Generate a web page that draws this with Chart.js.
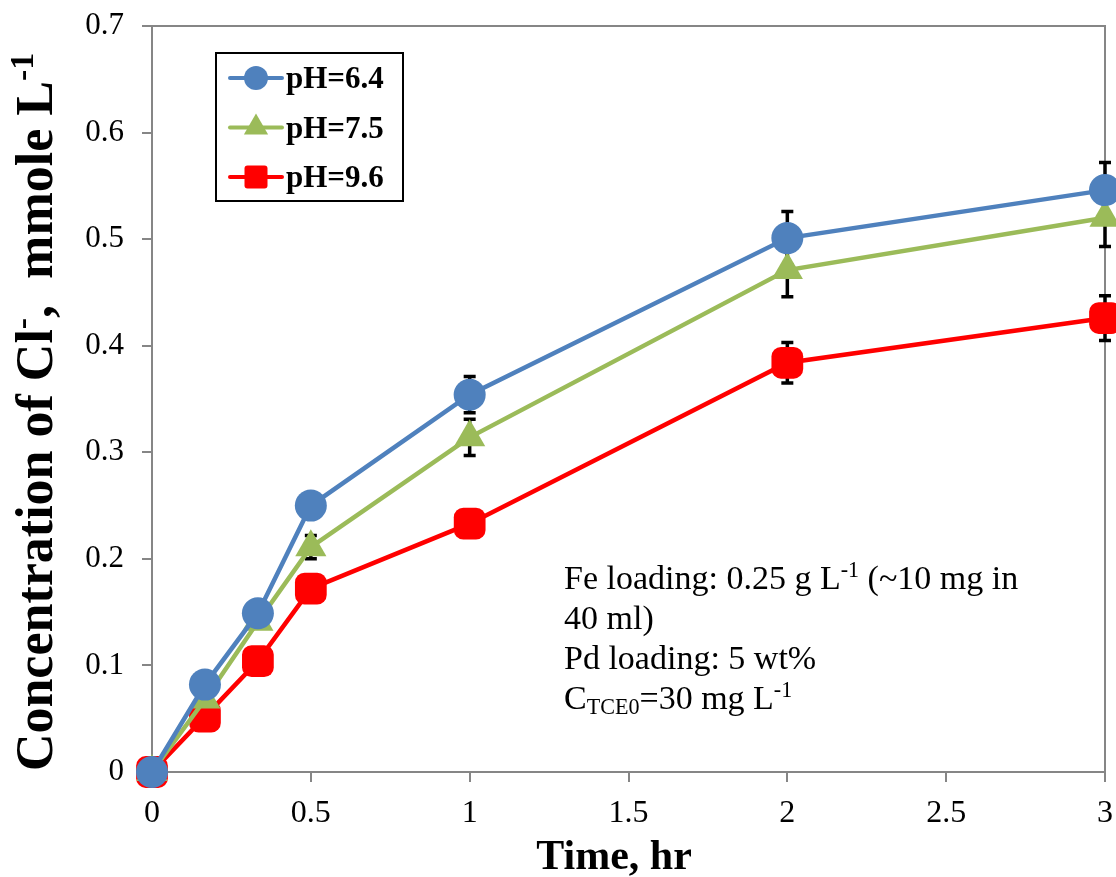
<!DOCTYPE html>
<html>
<head>
<meta charset="utf-8">
<script src="https://cdn.jsdelivr.net/npm/chart.js@4.4.0/dist/chart.umd.min.js"></script>
<style>
  html, body { margin: 0; padding: 0; background: #fff; }
  #wrap { width: 1116px; height: 877px; }
</style>
</head>
<body>
<div id="wrap"><canvas id="chart" width="1116" height="877"></canvas></div>
<script>
// time points (hr)
const times = [0, 1 / 6, 1 / 3, 0.5, 1, 2, 3];

// chloride concentration, mmole/L
const ph64 = [0, 0.082, 0.149, 0.250, 0.354, 0.501, 0.546];
const ph75 = [0, 0.068, 0.141, 0.211, 0.314, 0.471, 0.520];
const ph96 = [0, 0.052, 0.104, 0.172, 0.233, 0.384, 0.426];

// error bar half-widths
const ph64Err = [0, 0, 0, 0, 0.017, 0.025, 0.026];
const ph75Err = [0, 0, 0, 0.011, 0.017, 0.025, 0.027];
const ph96Err = [0, 0, 0, 0, 0.008, 0.019, 0.021];

const seriesNames = ['pH=6.4', 'pH=7.5', 'pH=9.6'];
const xTicks = [0, 0.5, 1, 1.5, 2, 2.5, 3];
const yTicks = [0, 0.1, 0.2, 0.3, 0.4, 0.5, 0.6, 0.7];

const BLUE = '#4F81BD';
const GREEN = '#9BBB59';
const RED = '#FF0000';
const AXIS = '#868686';
const SERIF = '"Liberation Serif", "Times New Roman", serif';

function toPoints(ys) {
    return ys.map((y, i) => ({ x: times[i], y: y }));
}

// draws text made of runs, some raised or lowered
function drawRich(ctx, runs, x, y, size, weight, align) {
    const parts = runs.map(r => {
        const s = r.sup || r.sub ? size * 0.65 : size;
        ctx.font = weight + ' ' + s + 'px ' + SERIF;
        return { text: r.t, size: s, w: ctx.measureText(r.t).width, dy: r.sup ? -size * 0.36 : (r.sub ? size * 0.16 : 0) };
    });
    const total = parts.reduce((a, p) => a + p.w, 0);
    let cx = align === 'center' ? x - total / 2 : x;
    ctx.textAlign = 'left';
    parts.forEach(p => {
        ctx.font = weight + ' ' + p.size + 'px ' + SERIF;
        ctx.fillText(p.text, cx, y + p.dy);
        cx += p.w;
    });
}

function marker(ctx, style, x, y, r, color) {
    ctx.fillStyle = color;
    ctx.beginPath();
    if (style === 'circle') {
        ctx.arc(x, y, r, 0, Math.PI * 2);
    } else if (style === 'triangle') {
        ctx.moveTo(x, y - r);
        ctx.lineTo(x + r * 0.866, y + r * 0.5);
        ctx.lineTo(x - r * 0.866, y + r * 0.5);
        ctx.closePath();
    } else {
        ctx.roundRect(x - r, y - r, 2 * r, 2 * r, 3);
    }
    ctx.fill();
}

const errorBars = {
    id: 'errorBars',
    beforeDatasetsDraw(chart) {
        const ctx = chart.ctx;
        const xs = chart.scales.x, ys = chart.scales.y;
        const area = chart.chartArea;
        ctx.save();
        // plot frame
        ctx.strokeStyle = AXIS;
        ctx.lineWidth = 2;
        ctx.strokeRect(area.left, area.top, area.right - area.left, area.bottom - area.top);
        ctx.strokeStyle = '#000';
        ctx.lineWidth = 3.5;
        const sets = [[ph64, ph64Err], [ph75, ph75Err], [ph96, ph96Err]];
        sets.forEach(([vals, errs]) => {
            vals.forEach((v, i) => {
                if (!errs[i]) return;
                const px = xs.getPixelForValue(times[i]);
                const top = ys.getPixelForValue(v + errs[i]);
                const bot = ys.getPixelForValue(v - errs[i]);
                ctx.beginPath();
                ctx.moveTo(px, top); ctx.lineTo(px, bot);
                ctx.moveTo(px - 6, top); ctx.lineTo(px + 6, top);
                ctx.moveTo(px - 6, bot); ctx.lineTo(px + 6, bot);
                ctx.stroke();
            });
        });
        ctx.restore();
    }
};

const decorations = {
    id: 'decorations',
    afterDraw(chart) {
        const ctx = chart.ctx;
        ctx.save();
        ctx.fillStyle = '#000';
        ctx.textBaseline = 'alphabetic';

        // x title
        drawRich(ctx, [{ t: 'Time, hr' }], 614, 869, 42, 'bold', 'center');

        // y title, rotated
        ctx.save();
        ctx.translate(52, 412);
        ctx.rotate(-Math.PI / 2);
        drawRich(ctx, [
            { t: 'Concentration of Cl' }, { t: '-', sup: true },
            { t: ',  mmole L' }, { t: '-1', sup: true }
        ], 0, 0, 52, 'bold', 'center');
        ctx.restore();

        // annotation
        const notes = [
            [{ t: 'Fe loading: 0.25 g L' }, { t: '-1', sup: true }, { t: ' (~10 mg in' }],
            [{ t: '40 ml)' }],
            [{ t: 'Pd loading: 5 wt%' }],
            [{ t: 'C' }, { t: 'TCE0', sub: true }, { t: '=30 mg L' }, { t: '-1', sup: true }]
        ];
        notes.forEach((runs, i) => drawRich(ctx, runs, 564, 589 + i * 40, 34, 'normal', 'left'));

        // legend
        ctx.strokeStyle = '#000';
        ctx.lineWidth = 2;
        ctx.strokeRect(216, 53, 187, 148);
        const colors = [BLUE, GREEN, RED];
        const styles = ['circle', 'triangle', 'rect'];
        const sizes = [12, 14, 11.5];
        seriesNames.forEach((name, i) => {
            const ly = 78 + i * 49.5;
            ctx.strokeStyle = colors[i];
            ctx.lineWidth = 4;
            ctx.lineCap = 'round';
            ctx.beginPath();
            ctx.moveTo(230, ly); ctx.lineTo(282, ly);
            ctx.stroke();
            marker(ctx, styles[i], 256, ly, sizes[i], colors[i]);
            ctx.fillStyle = '#000';
            ctx.font = 'bold 31px ' + SERIF;
            ctx.textBaseline = 'middle';
            ctx.textAlign = 'left';
            ctx.fillText(name, 286, ly + 2);
        });
        ctx.restore();
    }
};

new Chart(document.getElementById('chart'), {
    type: 'line',
    data: {
        datasets: [
            {
                label: seriesNames[0],
                data: toPoints(ph64),
                borderColor: BLUE,
                backgroundColor: BLUE,
                borderWidth: 4.5,
                pointStyle: 'circle',
                pointRadius: 16,
                pointBorderWidth: 0,
                clip: false
            },
            {
                label: seriesNames[1],
                data: toPoints(ph75),
                borderColor: GREEN,
                backgroundColor: GREEN,
                borderWidth: 4.5,
                pointStyle: 'triangle',
                pointRadius: 18,
                pointBorderWidth: 0,
                clip: false
            },
            {
                label: seriesNames[2],
                data: toPoints(ph96),
                borderColor: RED,
                backgroundColor: RED,
                borderWidth: 4.5,
                pointStyle: 'rectRounded',
                pointRadius: 18.5,
                pointBorderWidth: 0,
                clip: false
            }
        ]
    },
    options: {
        responsive: false,
        animation: false,
        layout: { autoPadding: false, padding: { top: 26, right: 11, left: 0, bottom: 0 } },
        plugins: {
            legend: { display: false },
            tooltip: { enabled: false }
        },
        elements: { line: { tension: 0 } },
        scales: {
            x: {
                type: 'linear',
                min: 0,
                max: 3,
                afterFit: scale => {
                    scale.height = 105;
                    scale.paddingLeft = 0;
                    scale.paddingRight = 0;
                },
                afterBuildTicks: scale => { scale.ticks = xTicks.map(v => ({ value: v })); },
                ticks: {
                    color: '#000',
                    padding: 12,
                    font: { family: SERIF, size: 32 },
                    callback: v => String(v)
                },
                grid: { drawOnChartArea: false, tickLength: 10, color: AXIS, lineWidth: 2 },
                border: { color: AXIS, width: 2 }
            },
            y: {
                type: 'linear',
                min: 0,
                max: 0.7,
                afterFit: scale => {
                    scale.width = 152;
                    scale.paddingTop = 0;
                    scale.paddingBottom = 0;
                },
                afterBuildTicks: scale => { scale.ticks = yTicks.map(v => ({ value: v })); },
                ticks: {
                    color: '#000',
                    padding: 18,
                    font: { family: SERIF, size: 31 },
                    callback: v => String(+v.toFixed(1))
                },
                grid: { drawOnChartArea: false, tickLength: 10, color: AXIS, lineWidth: 2 },
                border: { color: AXIS, width: 2 }
            }
        }
    },
    plugins: [errorBars, decorations]
});
</script>
</body>
</html>
